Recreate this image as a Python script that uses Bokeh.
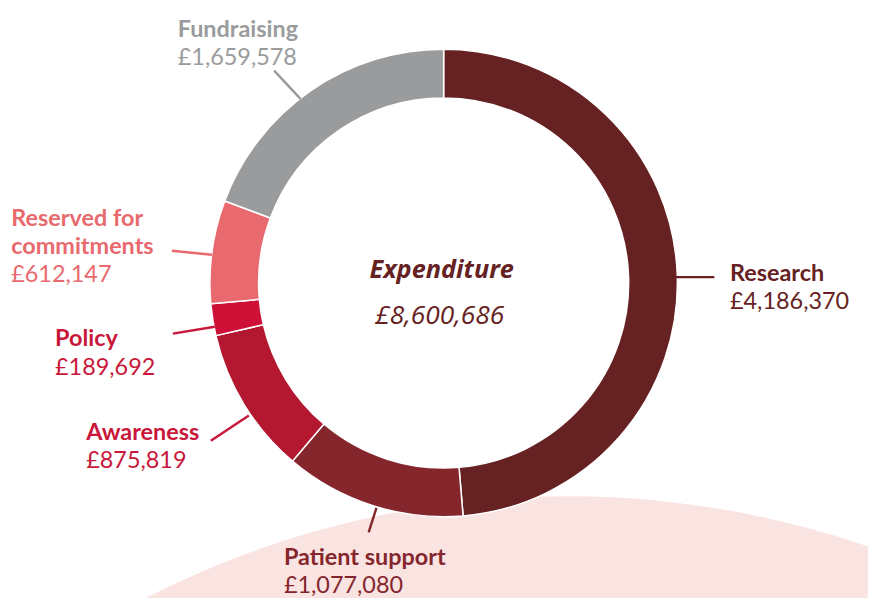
import numpy as np
from bokeh.plotting import figure
from bokeh.models import Range1d
from bokeh.embed import file_html
from bokeh.resources import INLINE
from bokeh.core.properties import value

# ---- data ----
categories = ["Research", "Patient support", "Awareness", "Policy",
              "Reserved for commitments", "Fundraising"]
amounts = [4186370, 1077080, 875819, 189692, 612147, 1659578]
amount_labels = ["£4,186,370", "£1,077,080", "£875,819", "£189,692", "£612,147", "£1,659,578"]
label_lines = [["Research"], ["Patient support"], ["Awareness"], ["Policy"],
               ["Reserved for", "commitments"], ["Fundraising"]]
center_title = "Expenditure"
center_total = "£8,600,686"

# ---- styles ----
slice_colors = ["#662222", "#85262d", "#b41730", "#cf1037", "#e86a6e", "#9a9b9c"]
text_colors = ["#662222", "#85262d", "#c8173a", "#c8173a", "#e86a6e", "#9a9b9c"]

W, H = 868, 598
REF_W, REF_H = 884, 614
S = H / REF_H  # px per unit


def sx(x):
    return x


def sy(y):
    return REF_H - y


def fpx(v):
    return "%.1fpx" % (v * S)


p = figure(width=W, height=H, output_backend="svg", toolbar_location=None,
           x_range=Range1d(0, W / S), y_range=Range1d(0, REF_H), min_border=0)
p.axis.visible = False
p.grid.visible = False
p.outline_line_color = None
p.background_fill_color = "white"

# background pink circle
p.circle(x=[sx(582)], y=[sy(1459)], radius=950, fill_color="#fae4e2", line_color=None)

# donut
total = float(sum(amounts))
fr = np.array(amounts) / total
cum = np.concatenate([[0], np.cumsum(fr)])
start = np.pi / 2 - 2 * np.pi * cum[:-1]
end = np.pi / 2 - 2 * np.pi * cum[1:]
cx, cy = sx(455), sy(290)
p.annular_wedge(x=cx, y=cy, inner_radius=190, outer_radius=240,
                start_angle=list(end), end_angle=list(start),
                fill_color=slice_colors, line_color="white", line_width=1.5)

# label layout (reference screen coords): x, baseline of first line
label_pos = [(749, 279), (291, 570), (88, 442), (56, 346), (11, 222), (182, 28)]
leaders = [((693, 284), (733, 284)), ((386, 521), (378, 546)), ((255, 426), (216, 452)),
           ((220, 335), (177, 342)), ((217, 261), (176, 257)), ((308, 101), (281, 72))]
pitch = 29
fs = fpx(24)
for i in range(len(categories)):
    x0, y0 = label_pos[i]
    lines = label_lines[i]
    for j, t in enumerate(lines):
        p.text(x=[sx(x0)], y=[sy(y0 + j * pitch)], text=[t], text_font=value("Lato"),
               text_font_style="bold", text_font_size=fs, text_color=text_colors[i],
               text_baseline="alphabetic", text_align="left")
    p.text(x=[sx(x0)], y=[sy(y0 + len(lines) * pitch)], text=[amount_labels[i]],
           text_font=value("Lato"), text_font_size=fs, text_color=text_colors[i],
           text_baseline="alphabetic", text_align="left")
    (a, b) = leaders[i]
    p.line(x=[sx(a[0]), sx(b[0])], y=[sy(a[1]), sy(b[1])], line_color=text_colors[i],
           line_width=2.5 * S)

p.text(x=[sx(453)], y=[sy(275)], text=[center_title], text_font=value("Open Sans"),
       text_font_style="bold italic", text_font_size=fpx(26), text_color="#662222",
       text_baseline="alphabetic", text_align="center")
p.text(x=[sx(451)], y=[sy(322)], text=[center_total], text_font=value("Open Sans"),
       text_font_style="italic", text_font_size=fpx(27), text_color="#662222",
       text_baseline="alphabetic", text_align="center")

open("out.html", "w").write(file_html(p, INLINE))
